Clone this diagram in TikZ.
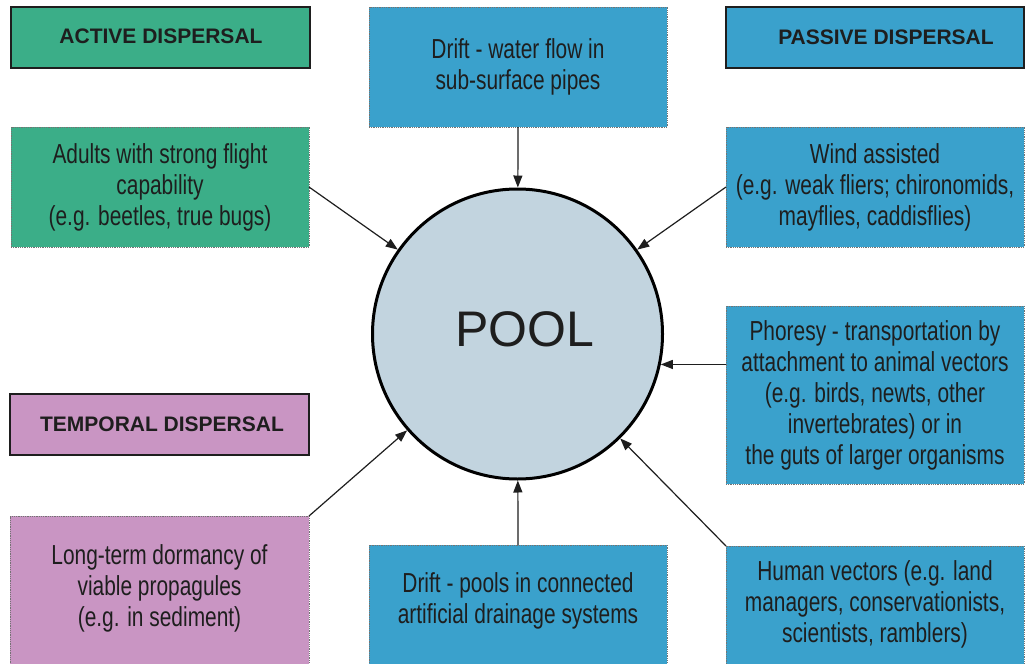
\documentclass[tikz,border=0pt]{standalone}
\usepackage{fontspec}
\setmainfont{Liberation Sans}
\newfontfamily\narrowf[FakeStretch=0.76]{Liberation Sans}
\usetikzlibrary{arrows.meta}
\definecolor{greenc}{HTML}{3BAE88}
\definecolor{bluec}{HTML}{3AA1CC}
\definecolor{pinkc}{HTML}{C995C3}
\definecolor{poolc}{HTML}{C2D4DF}
\definecolor{inkc}{HTML}{1E1E1E}
\begin{document}
\begin{tikzpicture}[x=1pt,y=-1pt,
 header/.style={draw=inkc, line width=2.5pt, inner sep=0pt, outer sep=0pt, anchor=north west},
 infobox/.style={draw=black!55, densely dotted, line width=0.8pt, inner sep=0pt, outer sep=0pt, anchor=north west, align=center, text=inkc, font=\narrowf\fontsize{27.5}{31}\selectfont},
 htext/.style={text=inkc, font=\bfseries\fontsize{21}{25}\selectfont},
 btext/.style={text=inkc, align=center, font=\narrowf\fontsize{27.5}{31}\selectfont},
 flow/.style={draw=inkc, line width=1.2pt, -{Triangle[length=12pt,width=9pt]}},
]
\clip (0,0) rectangle (1026,664);
\fill[white] (0,0) rectangle (1026,664);
% headers
\node[header, fill=greenc, minimum width=299pt, minimum height=61pt] (activebox) at (11,7) {};
\node[htext] (activetxt) at (161,36) {ACTIVE DISPERSAL};
\node[header, fill=bluec, minimum width=298pt, minimum height=61pt] (passivebox) at (726,7) {};
\node[htext] (passivetxt) at (886,37) {PASSIVE DISPERSAL};
\node[header, fill=pinkc, minimum width=299pt, minimum height=61pt] (temporalbox) at (10,394) {};
\node[htext] (temporaltxt) at (162,424) {TEMPORAL DISPERSAL};
% content boxes
\node[infobox, fill=greenc, minimum width=298pt, minimum height=120pt] (adults) at (11,127)
  {Adults with strong flight\\capability\\(e.g. beetles, true bugs)};
\node[infobox, fill=bluec, minimum width=298pt, minimum height=120pt] (drift1) at (369,7)
  {Drift - water flow in\\sub-surface pipes};
\node[infobox, fill=bluec, minimum width=298pt, minimum height=120pt] (wind) at (726,127)
  {Wind assisted\\(e.g. weak fliers; chironomids,\\mayflies, caddisflies)};
\node[infobox, fill=bluec, minimum width=298pt, minimum height=178pt] (phoresy) at (726,306)
  {Phoresy - transportation by\\attachment to animal vectors\\(e.g. birds, newts, other\\invertebrates) or in\\the guts of larger organisms};
\node[infobox, fill=bluec, minimum width=298pt, minimum height=140pt] (human) at (726,546) {};
\node[btext] (humantxt) at (875,604) {Human vectors (e.g. land\\managers, conservationists,\\scientists, ramblers)};
\node[infobox, fill=bluec, minimum width=298pt, minimum height=140pt] (drift2) at (369,545) {};
\node[btext] (drift2txt) at (518,601) {Drift - pools in connected\\artificial drainage systems};
\node[infobox, fill=pinkc, minimum width=299pt, minimum height=170pt] (longterm) at (10,516) {};
\node[btext] (longtermtxt) at (159.5,588) {Long-term dormancy of\\viable propagules\\(e.g. in sediment)};
% pool
\node[circle, draw=black, line width=3pt, fill=poolc, minimum size=290pt, inner sep=0pt] (pool) at (517.5,334) {};
\node[text=inkc, font=\fontsize{50}{60}\selectfont] (pooltxt) at (525,329) {POOL};
% connectors
\draw[flow] (drift1.south) -- (pool);
\draw[flow] (drift2.north) -- (pool);
\draw[flow] (adults.east) -- (pool);
\draw[flow] (wind.west) -- (pool);
\draw[flow] (pool.-12.3 -| phoresy.west) -- (pool.-12.3);
\draw[flow] (human.north west) -- (pool);
\draw[flow] (longterm.north east) -- (pool);
\end{tikzpicture}
\end{document}
